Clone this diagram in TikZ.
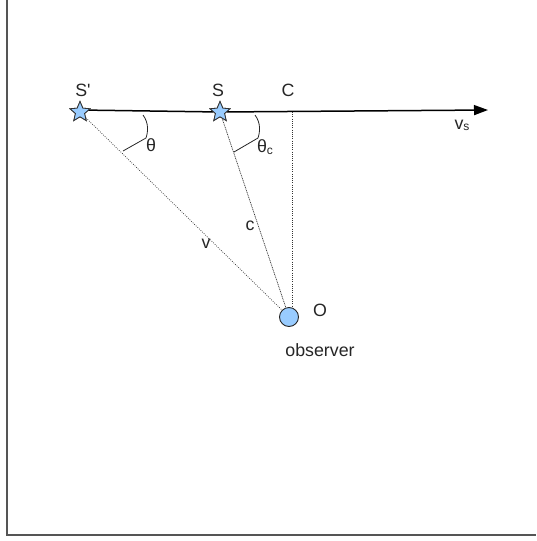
\documentclass[tikz,border=0pt]{standalone}
\usepackage{fontspec}
\setmainfont{Liberation Sans}[Ligatures=TeXOff]
\usetikzlibrary{shapes.geometric,arrows.meta}
\definecolor{fillblue}{HTML}{99CCFF}
\definecolor{framegray}{HTML}{555555}
\begin{document}
\begin{tikzpicture}[x=1pt,y=-1pt,
  lbl/.style={inner sep=0pt,font=\fontsize{17.8}{20}\selectfont,text=black!85},
  starnode/.style={star,star points=5,star point ratio=2.2,draw=black!80,fill=fillblue,minimum size=21pt,inner sep=0pt,line width=0.8pt},
  obsnode/.style={circle,draw=black!85,fill=fillblue,minimum size=19pt,inner sep=0pt,line width=0.9pt},
  dotline/.style={line width=0.7pt,dash pattern=on 0.8pt off 1.4pt,black!80},
  anglemark/.style={line width=0.8pt,black!85}]
\useasboundingbox (0,0) rectangle (536,541);
% frame
\coordinate (ftop) at (7,0);
\coordinate (fcorner) at (7,535);
\coordinate (fright) at (536,535);
\draw[framegray,line width=2pt] (ftop) -- (fcorner) -- (fright);
% nodes
\node[starnode] (Sp) at (80,112) {};
\node[starnode] (S) at (220,112) {};
\coordinate (Ctop) at (292,112);
\coordinate (tip) at (488,110);
\coordinate (lstart) at (80,110);
\node[obsnode] (O) at (289,317) {};
% main line with arrow
\draw[line width=1.5pt,-{Triangle[length=14pt,width=10pt]}] (lstart) -- (S) -- (tip);
\node[starnode] at (Sp) {};
\node[starnode] at (S) {};
% dotted lines
\draw[dotline] (Sp) -- (O);
\draw[dotline,dash pattern=on 1pt off 0.8pt] (S) -- (O);
\draw[dotline] (Ctop) -- (O.north -| Ctop);
% angle marks
\draw[anglemark] (143,115) .. controls (149,123) and (148,132) .. (146,138) -- (123,151);
\draw[anglemark] (255,115) .. controls (261,123) and (260,132) .. (258,138) -- (234,152);
% labels
\node[lbl] (lSp) at (83,90) {S'};
\node[lbl] (lS) at (218,90) {S};
\node[lbl] (lC) at (288,90) {C};
\node[lbl] (lth) at (151,145) {θ};
\node[lbl] (lthc) at (265,147) {θ\raisebox{-2pt}{\fontsize{12}{14}\selectfont c}};
\node[lbl] (lc) at (250,226) {c};
\node[lbl] (lv) at (206,244) {v};
\node[lbl] (lvs) at (462,125) {v\raisebox{-1pt}{\fontsize{12}{14}\selectfont s}};
\node[lbl] (lO) at (320,310) {O};
\node[lbl] (lobs) at (320,350) {observer};
\end{tikzpicture}
\end{document}
